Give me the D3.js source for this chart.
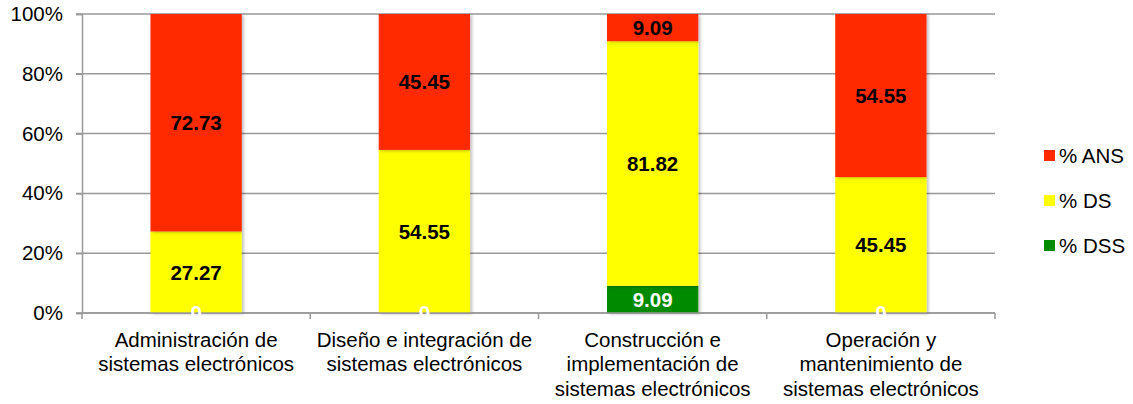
<!DOCTYPE html>
<html>
<head>
<meta charset="utf-8">
<script src="https://cdn.jsdelivr.net/npm/d3@7"></script>
<style>
  body { margin: 0; background: #fff; }
  text { font-family: Arial, "Liberation Sans", sans-serif; }
</style>
</head>
<body>
<div id="chart"></div>
<script>
// categories and values (percent)
const categories = [
    ['Administración de', 'sistemas electrónicos'],
    ['Diseño e integración de', 'sistemas electrónicos'],
    ['Construcción e', 'implementación de', 'sistemas electrónicos'],
    ['Operación y', 'mantenimiento de', 'sistemas electrónicos']
];
const seriesNames = ['% DSS', '% DS', '% ANS'];
const dss = [0, 0, 9.09, 0];
const ds = [27.27, 54.55, 81.82, 45.45];
const ans = [72.73, 45.45, 9.09, 54.55];
const colors = ['#008a00', '#ffff00', '#ff2a00'];
const labelColors = ['#fff', '#000', '#000'];
const yTicks = [0, 20, 40, 60, 80, 100];

const width = 1133, height = 404;
const margin = {top: 14, right: 138, bottom: 91, left: 82};
const fontSize = '20.5px';

const svg = d3.select('#chart').append('svg')
    .attr('width', width)
    .attr('height', height);

const defs = svg.append('defs');
const shadow = defs.append('filter').attr('id', 'shadow')
    .attr('x', '-10%').attr('y', '-10%').attr('width', '130%').attr('height', '130%');
shadow.append('feDropShadow')
    .attr('dx', 2).attr('dy', 1).attr('stdDeviation', 1.5)
    .attr('flood-color', '#000').attr('flood-opacity', 0.25);

const x = d3.scaleBand()
    .domain(d3.range(categories.length))
    .range([margin.left, width - margin.right])
    .paddingInner(0.6)
    .paddingOuter(0.3);

const y = d3.scaleLinear()
    .domain([0, 100])
    .range([height - margin.bottom, margin.top]);

// gridlines
svg.append('g')
    .selectAll('line')
    .data(yTicks)
    .join('line')
    .attr('x1', margin.left - 6)
    .attr('x2', width - margin.right)
    .attr('y1', d => y(d))
    .attr('y2', d => y(d))
    .style('stroke', '#999')
    .style('stroke-width', 1.5);

// y axis
const yAxis = svg.append('g')
    .attr('transform', `translate(${margin.left},0)`)
    .call(d3.axisLeft(y).tickValues(yTicks).tickFormat(d => d + '%').tickSize(6).tickPadding(13));
yAxis.select('.domain').style('stroke', '#999').style('stroke-width', 1.5);
yAxis.selectAll('.tick line').style('stroke', '#999').style('stroke-width', 1.5);
yAxis.selectAll('.tick text').style('font-size', fontSize).style('fill', '#000')
    .style('font-family', 'Arial, "Liberation Sans", sans-serif');

// stacked data
const rows = categories.map((c, i) => ({i, dss: dss[i], ds: ds[i], ans: ans[i]}));
const stack = d3.stack().keys(['dss', 'ds', 'ans']);
const layers = stack(rows);

const barGroup = svg.append('g');
layers.forEach((layer, k) => {
    barGroup.append('g')
        .selectAll('rect')
        .data(layer)
        .join('rect')
        .attr('x', d => x(d.data.i))
        .attr('width', x.bandwidth())
        .attr('y', d => y(d[1]))
        .attr('height', d => y(d[0]) - y(d[1]))
        .attr('filter', 'url(#shadow)')
        .style('fill', colors[k]);
});

// x axis line and ticks at category boundaries
const bounds = d3.range(categories.length + 1).map(i => margin.left + i * (width - margin.right - margin.left) / categories.length);
svg.append('line')
    .attr('x1', margin.left).attr('x2', width - margin.right)
    .attr('y1', y(0)).attr('y2', y(0))
    .style('stroke', '#999').style('stroke-width', 1.5);
svg.append('g')
    .selectAll('line')
    .data(bounds)
    .join('line')
    .attr('x1', d => d).attr('x2', d => d)
    .attr('y1', y(0)).attr('y2', y(0) + 6)
    .style('stroke', '#999').style('stroke-width', 1.5);

// data labels
layers.forEach((layer, k) => {
    svg.append('g')
        .selectAll('text')
        .data(layer)
        .join('text')
        .attr('x', d => x(d.data.i) + x.bandwidth() / 2)
        .attr('y', d => (y(d[0]) + y(d[1])) / 2)
        .attr('dy', '0.36em')
        .attr('text-anchor', 'middle')
        .style('font-size', fontSize)
        .style('font-weight', 'bold')
        .style('fill', labelColors[k])
        .text(d => {
            const v = d[1] - d[0];
            return v === 0 ? '0' : v.toFixed(2);
        });
});

// category labels
const catLabels = svg.append('g')
    .selectAll('text')
    .data(categories)
    .join('text')
    .attr('x', (d, i) => x(i) + x.bandwidth() / 2)
    .attr('y', y(0) + 34)
    .attr('text-anchor', 'middle')
    .style('font-size', fontSize)
    .style('fill', '#000');
catLabels.selectAll('tspan')
    .data(d => d)
    .join('tspan')
    .attr('x', function() { return this.parentNode.getAttribute('x'); })
    .attr('dy', (d, j) => j === 0 ? 0 : 24.3)
    .text(d => d);

// legend (top to bottom: ANS, DS, DSS)
const legendItems = [2, 1, 0];
const legend = svg.append('g')
    .selectAll('g')
    .data(legendItems)
    .join('g')
    .attr('transform', (d, j) => `translate(1044, ${155.5 + j * 45})`);
legend.append('rect')
    .attr('x', 0).attr('y', -5.5)
    .attr('width', 11).attr('height', 11)
    .style('fill', d => colors[d]);
legend.append('text')
    .attr('x', 15).attr('y', 0).attr('dy', '0.36em')
    .style('font-size', fontSize)
    .style('fill', '#000')
    .text(d => seriesNames[d]);
</script>
</body>
</html>
